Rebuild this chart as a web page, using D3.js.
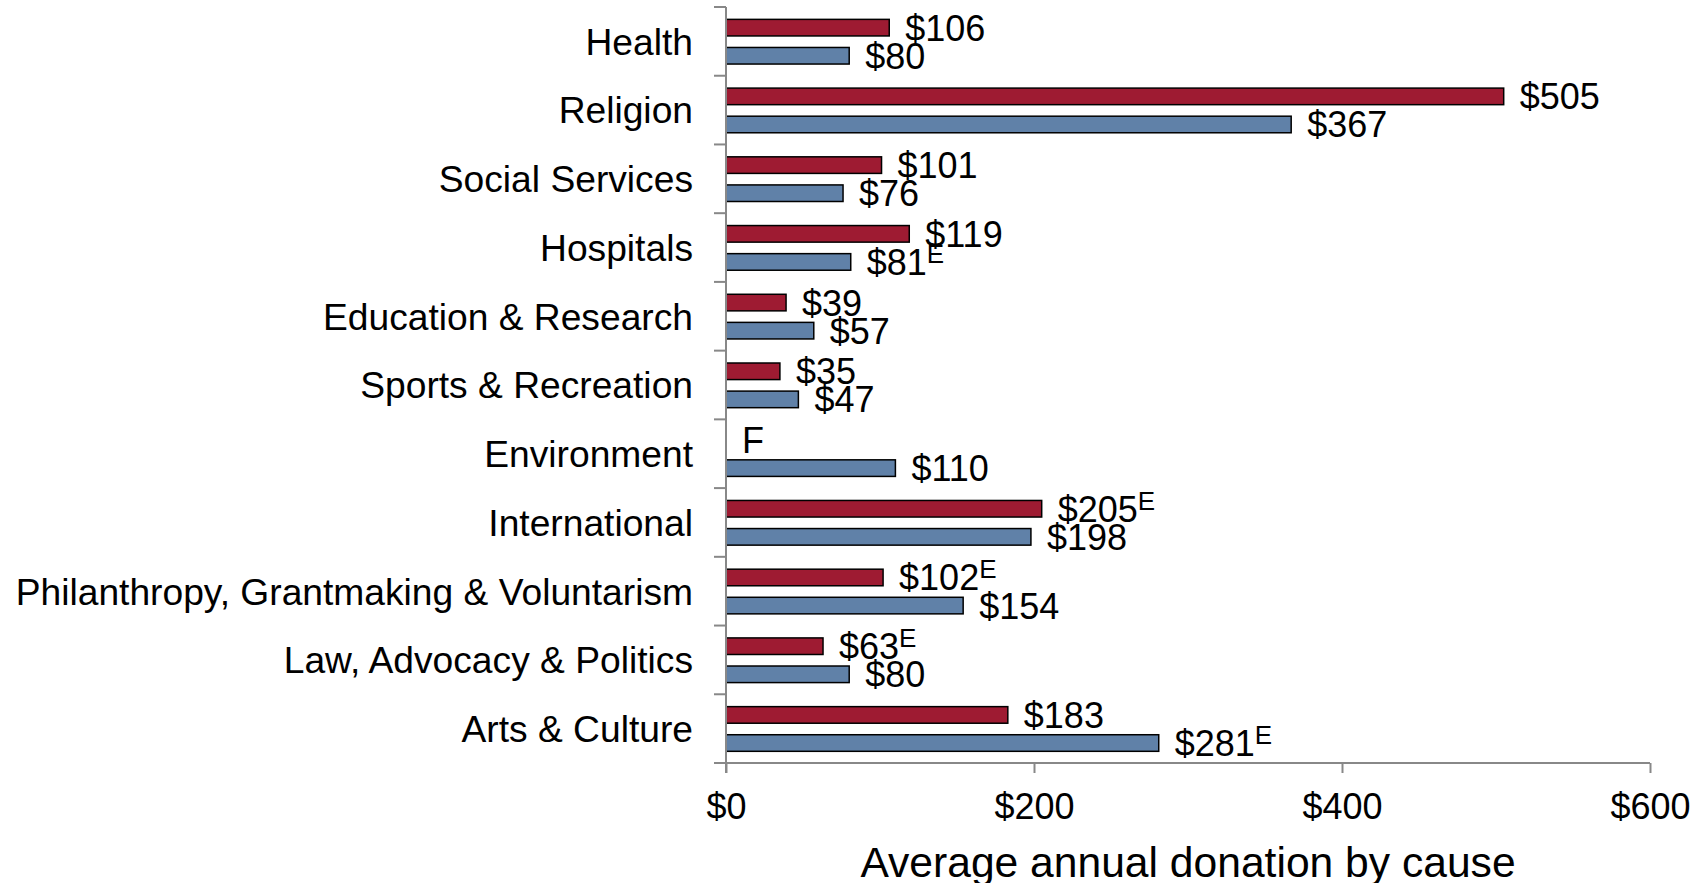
<!DOCTYPE html>
<html>
<head>
<meta charset="utf-8">
<script src="https://cdn.jsdelivr.net/npm/d3@7"></script>
<style>
  body { margin: 0; background: #fff; }
  text { font-family: "Liberation Sans", Arial, sans-serif; fill: #000; }
</style>
</head>
<body>
<div id="canvas"></div>
<script>
// categories top to bottom
const causes = ["Health", "Religion", "Social Services", "Hospitals", "Education & Research",
  "Sports & Recreation", "Environment", "International",
  "Philanthropy, Grantmaking & Voluntarism", "Law, Advocacy & Politics", "Arts & Culture"];
// red series (null = F, too unreliable to publish)
const redValues = [106, 505, 101, 119, 39, 35, null, 205, 102, 63, 183];
const redFlags = ["", "", "", "", "", "", "F", "E", "E", "E", ""];
// blue series
const blueValues = [80, 367, 76, 81, 57, 47, 110, 198, 154, 80, 281];
const blueFlags = ["", "", "", "E", "", "", "", "", "", "", "E"];
const xTicks = [0, 200, 400, 600];
const xTitle = "Average annual donation by cause";

const width = 1706, height = 883;
const svg = d3.select("#canvas").append("svg")
  .attr("width", width).attr("height", height);

const x = d3.scaleLinear().domain([0, 600]).range([726, 1650]);
const y = d3.scaleBand().domain(causes).range([7, 763]).padding(0);
const bw = y.bandwidth();
const series = d3.scaleBand().domain(["red", "blue"])
  .range([bw * 0.18, bw * 0.83]).paddingInner(0.41);

const rows = causes.map((c, i) => ({
  cause: c,
  bars: [
    { key: "red", value: redValues[i], flag: redFlags[i], color: "#9E1B32" },
    { key: "blue", value: blueValues[i], flag: blueFlags[i], color: "#6081A8" }
  ]
}));

const groups = svg.selectAll(".grp").data(rows).enter().append("g")
  .attr("class", "grp")
  .attr("transform", d => `translate(0,${y(d.cause)})`);

groups.selectAll("rect").data(d => d.bars.filter(b => b.value != null)).enter().append("rect")
  .attr("x", x(0))
  .attr("y", d => series(d.key))
  .attr("width", d => x(d.value) - x(0))
  .attr("height", series.bandwidth())
  .style("fill", d => d.color)
  .style("stroke", "#000")
  .style("stroke-width", 1.5);

// data labels
const lab = groups.selectAll(".lbl").data(d => d.bars).enter().append("text")
  .attr("class", "lbl")
  .attr("x", d => x(d.value == null ? 0 : d.value) + 16)
  .attr("y", d => series(d.key) + series.bandwidth() / 2)
  .attr("dy", "0.36em")
  .style("font-size", "36px");
lab.append("tspan").text(d => d.value == null ? d.flag : "$" + d.value);
lab.filter(d => d.value != null && d.flag).append("tspan")
  .attr("dy", -12)
  .style("font-size", "26px")
  .text(d => d.flag);

// y axis
const yAxis = svg.append("g")
  .attr("transform", `translate(${x(0)},0)`)
  .call(d3.axisLeft(y).tickSize(0).tickPadding(33));
yAxis.selectAll("text").style("font-size", "37.2px").attr("dy", "0.36em");
yAxis.select(".domain").remove();
yAxis.append("line").attr("x1", 0).attr("x2", 0).attr("y1", 7).attr("y2", 773)
  .style("stroke", "#888").style("stroke-width", 2);
yAxis.selectAll(".sep").data(causes).enter().append("line")
  .attr("class", "sep")
  .attr("x1", -12).attr("x2", 0)
  .attr("y1", d => y(d)).attr("y2", d => y(d))
  .style("stroke", "#888").style("stroke-width", 2);

// x axis
const xAxis = svg.append("g")
  .attr("transform", `translate(0,763)`)
  .call(d3.axisBottom(x).tickValues(xTicks).tickFormat(d => "$" + d).tickSize(10).tickPadding(20));
xAxis.select(".domain").remove();
xAxis.append("line").attr("x1", x(0) - 12).attr("x2", x(600)).attr("y1", 0).attr("y2", 0)
  .style("stroke", "#888").style("stroke-width", 2);
xAxis.selectAll(".tick line").style("stroke", "#888").style("stroke-width", 2);
xAxis.selectAll("text").style("font-size", "36px").style("fill", "#000");

svg.append("text")
  .attr("x", (x(0) + x(600)) / 2)
  .attr("y", 877)
  .attr("text-anchor", "middle")
  .style("font-size", "42.6px")
  .text(xTitle);
</script>
</body>
</html>
